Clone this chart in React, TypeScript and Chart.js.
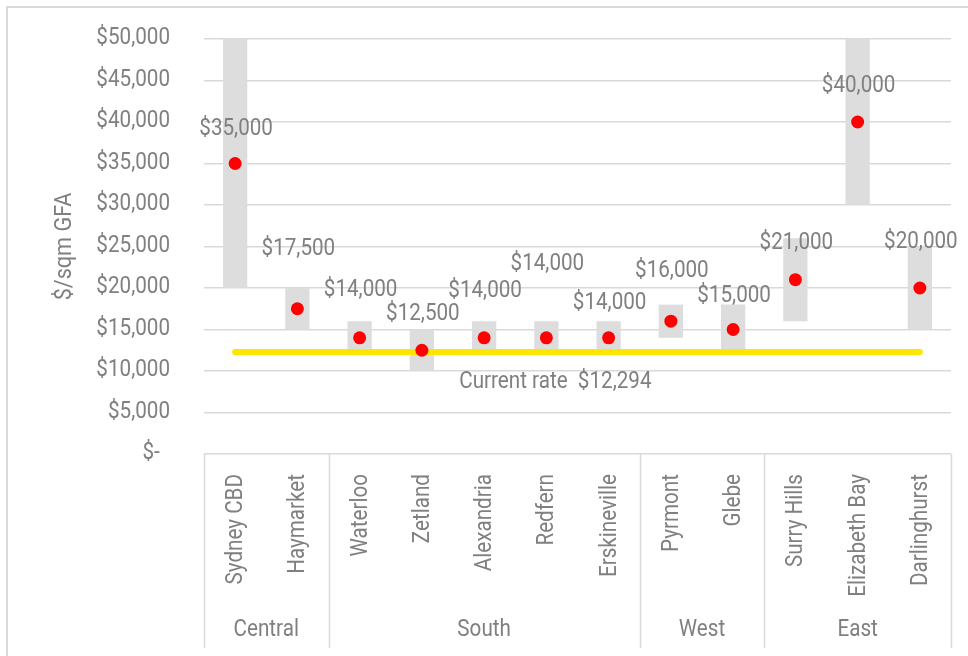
import React, { useEffect, useRef } from "react";
import { Chart, registerables } from "chart.js";

Chart.register(...registerables);

const categories = [
  "Sydney CBD",
  "Haymarket",
  "Waterloo",
  "Zetland",
  "Alexandria",
  "Redfern",
  "Erskineville",
  "Pyrmont",
  "Glebe",
  "Surry Hills",
  "Elizabeth Bay",
  "Darlinghurst",
];
const groupNames = ["Central", "South", "West", "East"];
const groupSizes = [2, 5, 2, 3];
const rangeLow = [20000, 15000, 12500, 10000, 12500, 12500, 12500, 14000, 12500, 16000, 30000, 15000];
const rangeHigh = [50000, 20000, 16000, 15000, 16000, 16000, 16000, 18000, 18000, 26000, 50000, 25000];
const estimates = [35000, 17500, 14000, 12500, 14000, 14000, 14000, 16000, 15000, 21000, 40000, 20000];
const currentRate = 12294;
const yMin = 0;
const yMax = 50000;
const yStep = 5000;
const yTitle = "$/sqm GFA";
const currentRateLabel = "Current rate";

// label lift above the dot (px), as manually placed in the original
const labelLift = [35, 60, 48, 36, 47, 74, 35, 50, 34, 37, 36, 46];

const FONT = "Roboto, 'Liberation Sans', sans-serif";
const FONT_SIZE = 24;
const SX = 0.86; // horizontal condensing to mimic the narrow original face
const TEXT = "#808080";
const LINE = "#d9d9d9";

const money = (v: number) => (v === 0 ? "$-  " : "$" + v.toLocaleString("en-US"));

function drawText(
  ctx: CanvasRenderingContext2D,
  text: string,
  x: number,
  y: number,
  align: CanvasTextAlign,
  rot = 0,
  sx = SX
) {
  ctx.save();
  ctx.translate(x, y);
  if (rot) ctx.rotate(rot);
  ctx.scale(sx, 1);
  ctx.textAlign = align;
  ctx.textBaseline = "middle";
  ctx.fillText(text, 0, 0);
  ctx.restore();
}

const overlay = {
  id: "overlay",
  afterDatasetsDraw(chart: any) {
    const ctx = chart.ctx;
    const x = chart.scales.x;
    const y = chart.scales.y;
    ctx.save();
    ctx.fillStyle = TEXT;
    ctx.font = `${FONT_SIZE}px ${FONT}`;
    estimates.forEach((v, i) => {
      const px = x.getPixelForValue(i);
      const py = y.getPixelForValue(v);
      drawText(ctx, money(v), px + 1, py - labelLift[i], "center");
    });
    const ly = y.getPixelForValue(currentRate);
    drawText(ctx, currentRateLabel + "  " + money(currentRate), x.getPixelForValue(5) + 9, ly + 30, "center");
    ctx.restore();
  },
  afterDraw(chart: any) {
    const ctx = chart.ctx;
    const x = chart.scales.x;
    const y = chart.scales.y;
    const area = chart.chartArea;
    const W = chart.width;
    const H = chart.height;
    ctx.save();
    // outer border
    ctx.strokeStyle = LINE;
    ctx.lineWidth = 2;
    ctx.beginPath();
    ctx.moveTo(7, H);
    ctx.lineTo(7, 7);
    ctx.lineTo(W, 7);
    ctx.stroke();

    const step = (area.right - area.left) / categories.length;
    ctx.lineWidth = 1.5;
    let idx = 0;
    const bounds = [0];
    groupSizes.forEach((n) => {
      idx += n;
      bounds.push(idx);
    });
    bounds.forEach((b) => {
      const bx = Math.round(area.left + b * step) + 0.5;
      ctx.beginPath();
      ctx.moveTo(bx, area.bottom);
      ctx.lineTo(bx, 648);
      ctx.stroke();
    });

    ctx.fillStyle = TEXT;
    ctx.font = `${FONT_SIZE}px ${FONT}`;

    // y tick labels
    y.ticks.forEach((t: any) => {
      drawText(ctx, money(t.value), 170, y.getPixelForValue(t.value) - 1, "right");
    });

    // category labels (rotated)
    categories.forEach((c, i) => {
      drawText(ctx, c, x.getPixelForValue(i) + 1, area.bottom + 20, "right", -Math.PI / 2);
    });

    // group labels
    groupNames.forEach((g, gi) => {
      const cx = area.left + ((bounds[gi] + bounds[gi + 1]) / 2) * step;
      drawText(ctx, g, cx, 630, "center");
    });

    // y axis title
    drawText(ctx, yTitle, 65, (area.top + area.bottom) / 2, "center", -Math.PI / 2, 0.9);

    ctx.restore();
  },
};

export default function App() {
  const ref = useRef<HTMLCanvasElement | null>(null);
  useEffect(() => {
    if (!ref.current) return;
    const chart = new Chart(ref.current, {
      type: "bar",
      data: {
        labels: categories,
        datasets: [
          {
            type: "line",
            label: "Estimate",
            data: estimates,
            showLine: false,
            pointRadius: 6.5,
            pointBackgroundColor: "#ff0000",
            pointBorderWidth: 0,
            order: 0,
          } as any,
          {
            type: "line",
            label: "Current rate",
            data: categories.map(() => currentRate),
            borderColor: "#ffe600",
            borderWidth: 6,
            borderCapStyle: "round",
            pointRadius: 0,
            order: 1,
          } as any,
          {
            type: "bar",
            label: "Range",
            data: rangeLow.map((lo, i) => [lo, rangeHigh[i]]),
            backgroundColor: "#dddddd",
            barPercentage: 0.39,
            categoryPercentage: 1,
            order: 2,
          } as any,
        ],
      },
      options: {
        animation: false,
        responsive: true,
        maintainAspectRatio: false,
        layout: { padding: { top: 39, right: 17, left: 0, bottom: 0 } },
        plugins: { legend: { display: false }, tooltip: { enabled: false } },
        scales: {
          x: {
            offset: true,
            grid: { display: false },
            border: { display: false },
            ticks: { display: false },
            afterFit: (s: any) => {
              s.height = 202;
              s.paddingLeft = 0;
              s.paddingRight = 0;
            },
          },
          y: {
            min: yMin,
            max: yMax,
            border: { display: false },
            grid: { color: LINE, lineWidth: 1.5, drawTicks: false },
            ticks: { stepSize: yStep, display: false },
            afterFit: (s: any) => {
              s.width = 204;
              s.paddingTop = 0;
              s.paddingBottom = 0;
            },
          },
        },
      },
      plugins: [overlay],
    });
    return () => chart.destroy();
  }, []);
  return (
    <div style={{ position: "fixed", left: 0, top: 0, width: 968, height: 656, background: "#fff" }}>
      <canvas ref={ref} />
    </div>
  );
}
